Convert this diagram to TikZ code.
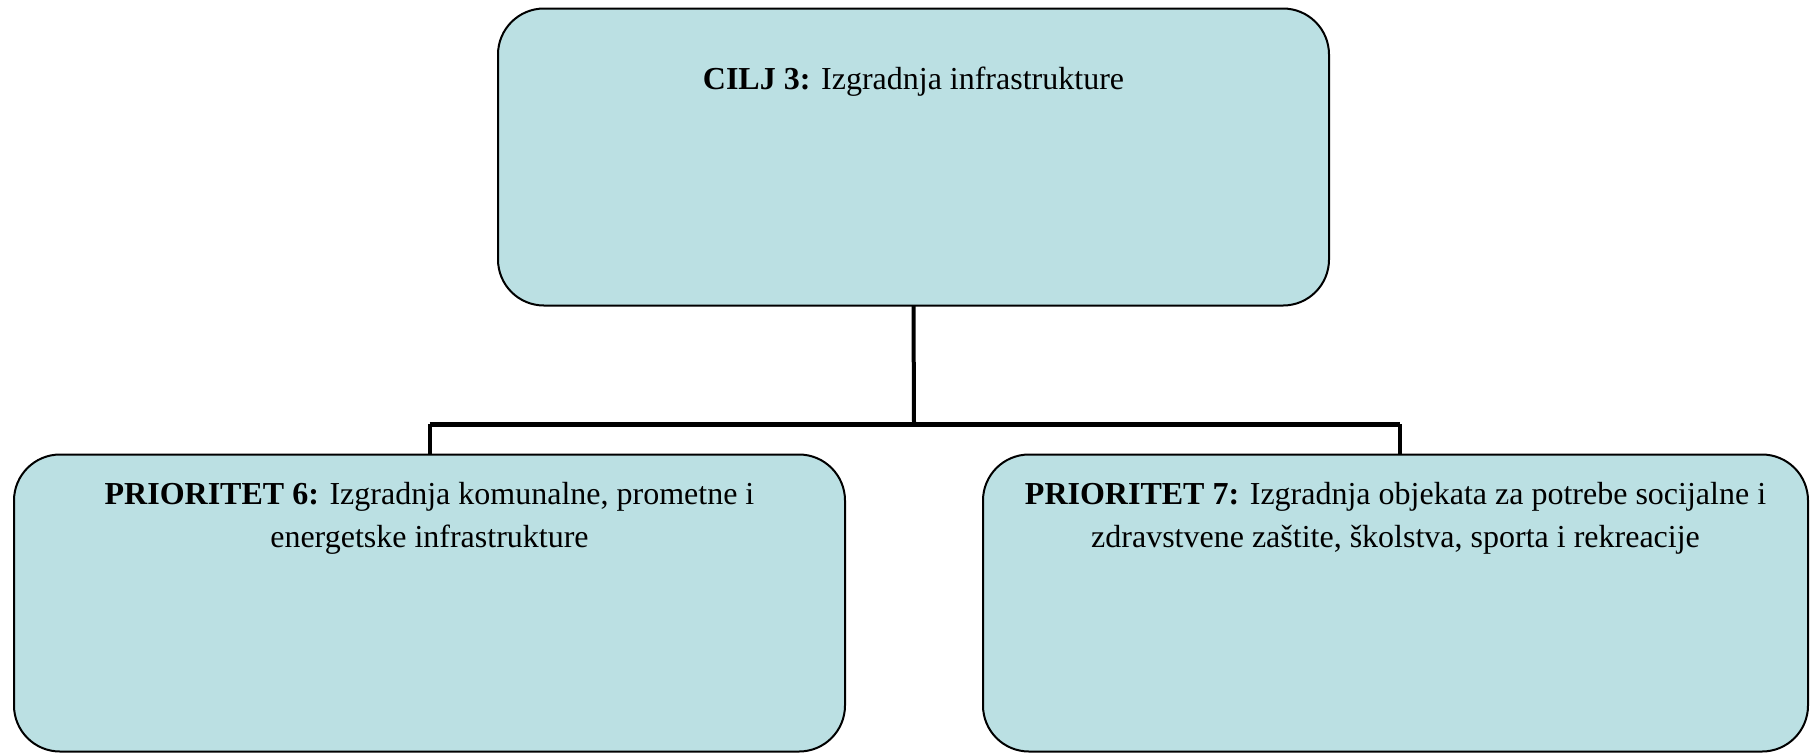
\documentclass[tikz,border=0pt]{standalone}
\usepackage{fontspec}
\setmainfont{Liberation Serif}
\usepackage{tikz}
\definecolor{boxBlue}{RGB}{187,224,227}

\begin{document}
\begin{tikzpicture}[x=0.5pt, y=-0.5pt]%
  \tikzset{goal box/.style={draw=black, fill=boxBlue, line width=1pt, rounded corners=23pt,
      minimum width=415.5pt, minimum height=148.5pt, inner sep=0pt, outer sep=0pt}}
  \tikzset{box text/.style={align=center, inner sep=0pt, anchor=base,
      font=\fontsize{16}{21.5}\selectfont}}
  \tikzset{tree line/.style={draw, line width=2pt}}
  \useasboundingbox (0,0) rectangle (1810,752);

  \node[goal box] at (913.5,157) (cilj) {};
  \node[goal box] at (429.5,603) (p6) {};
  \node[goal box, minimum width=412.5pt] at (1395.5,603) (p7) {};

  % base anchor sits on the last line, so two-line texts go 21.5pt lower
  \node[box text] at ([yshift=-40.5pt]cilj.north) (ciljtxt) {\textbf{CILJ 3:} Izgradnja infrastrukture};
  \node[box text] at ([yshift=-46.5pt]p6.north) (p6txt) {\textbf{PRIORITET 6:} Izgradnja komunalne, prometne i\\energetske infrastrukture};
  \node[box text] at ([yshift=-46.5pt]p7.north) (p7txt) {\textbf{PRIORITET 7:} Izgradnja objekata za potrebe socijalne i\\zdravstvene zaštite, školstva, sporta i rekreacije};

  \coordinate (fork) at (914,424);
  \coordinate (forkL) at (p6.north |- fork);
  \coordinate (forkR) at ([xshift=2pt]p7.north |- fork);

  \path[tree line] (cilj.south) -- (fork);
  \path[draw, line width=2.5pt] (forkL) -- (forkR);
  \path[tree line] (forkL) -- (p6.north);
  \path[tree line] (forkR) -- ([xshift=2pt]p7.north);
\end{tikzpicture}
\end{document}
